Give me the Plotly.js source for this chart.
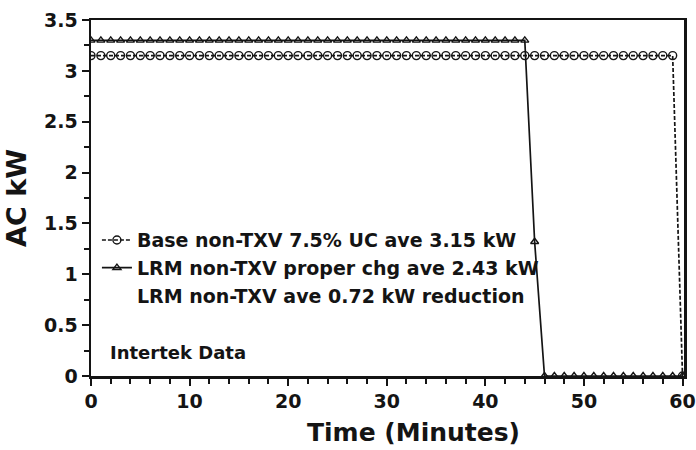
<!DOCTYPE html>
<html>
<head>
<meta charset="utf-8">
<script src="https://cdn.plot.ly/plotly-3.0.1.min.js"></script>
<style>
  html, body { margin: 0; padding: 0; background: #fff; }
  #chart { width: 696px; height: 450px; }
</style>
</head>
<body>
<div id="chart"></div>
<script>
// Time in minutes
const timeMin = [0,1,2,3,4,5,6,7,8,9,10,11,12,13,14,15,16,17,18,19,20,21,22,23,24,25,26,27,28,29,30,31,32,33,34,35,36,37,38,39,40,41,42,43,44,45,46,47,48,49,50,51,52,53,54,55,56,57,58,59,60];
// Base non-TXV 7.5% UC (kW)
const baseKW = [3.15,3.15,3.15,3.15,3.15,3.15,3.15,3.15,3.15,3.15,3.15,3.15,3.15,3.15,3.15,3.15,3.15,3.15,3.15,3.15,3.15,3.15,3.15,3.15,3.15,3.15,3.15,3.15,3.15,3.15,3.15,3.15,3.15,3.15,3.15,3.15,3.15,3.15,3.15,3.15,3.15,3.15,3.15,3.15,3.15,3.15,3.15,3.15,3.15,3.15,3.15,3.15,3.15,3.15,3.15,3.15,3.15,3.15,3.15,3.15,0];
// LRM non-TXV proper charge (kW)
const lrmKW = [3.3,3.3,3.3,3.3,3.3,3.3,3.3,3.3,3.3,3.3,3.3,3.3,3.3,3.3,3.3,3.3,3.3,3.3,3.3,3.3,3.3,3.3,3.3,3.3,3.3,3.3,3.3,3.3,3.3,3.3,3.3,3.3,3.3,3.3,3.3,3.3,3.3,3.3,3.3,3.3,3.3,3.3,3.3,3.3,3.3,1.32,0,0,0,0,0,0,0,0,0,0,0,0,0,0,0];

const seriesNames = [
  'Base non-TXV 7.5% UC ave 3.15 kW',
  'LRM non-TXV proper chg ave 2.43 kW',
  'LRM non-TXV ave 0.72 kW reduction'
];
const noteText = 'Intertek Data';
const xTitle = 'Time (Minutes)';
const yTitle = 'AC kW';

const FONT = 'DejaVu Sans, Arial, sans-serif';
const INK = '#141414';

const traces = [
  {
    x: timeMin, y: baseKW, name: seriesNames[0], type: 'scatter', mode: 'lines+markers',
    line: { color: INK, width: 1.7, dash: '4px,2px' },
    marker: { symbol: 'circle-open', size: 8, color: INK, line: { width: 1.4 } }
  },
  {
    x: timeMin, y: lrmKW, name: seriesNames[1], type: 'scatter', mode: 'lines+markers',
    line: { color: INK, width: 1.7 },
    marker: { symbol: 'triangle-up-open', size: 7, color: INK, line: { width: 1.4 } }
  },
  {
    x: [null], y: [null], name: seriesNames[2], type: 'scatter', mode: 'lines',
    line: { color: 'rgba(0,0,0,0)', width: 0 }, hoverinfo: 'skip'
  }
];

const layout = {
  width: 696, height: 450,
  margin: { l: 91, r: 12, t: 20, b: 74 },
  paper_bgcolor: '#fff', plot_bgcolor: '#fff',
  font: { family: FONT, color: INK, weight: 'bold' },
  showlegend: true,
  legend: {
    x: 0.01, xanchor: 'left', y: 0.435, yanchor: 'top',
    bgcolor: 'rgba(0,0,0,0)', borderwidth: 0,
    font: { family: FONT, size: 19, weight: 'bold', color: INK },
    tracegroupgap: 0
  },
  xaxis: {
    range: [0, 60.15], dtick: 10, tick0: 0,
    showline: true, linecolor: INK, linewidth: 2.5, mirror: true,
    showgrid: false, zeroline: false,
    ticks: 'outside', ticklen: 7, tickwidth: 2, tickcolor: INK,
    minor: { dtick: 2, ticks: 'outside', ticklen: 5, tickwidth: 2, tickcolor: INK },
    tickfont: { family: FONT, size: 19, weight: 'bold', color: INK }
  },
  yaxis: {
    range: [0, 3.5], dtick: 0.5, tick0: 0,
    showline: true, linecolor: INK, linewidth: 2.5, mirror: true,
    showgrid: false, zeroline: false,
    ticks: 'outside', ticklen: 7, tickwidth: 2, tickcolor: INK,
    minor: { dtick: 0.25, ticks: 'outside', ticklen: 5, tickwidth: 2, tickcolor: INK },
    tickfont: { family: FONT, size: 19, weight: 'bold', color: INK },
    title: { text: yTitle, font: { family: FONT, size: 27, weight: 'bold', color: INK }, standoff: 10 }
  },
  annotations: [
    {
      text: noteText, xref: 'paper', yref: 'paper', x: 0.028, y: 0.067,
      xanchor: 'left', yanchor: 'middle', showarrow: false,
      font: { family: FONT, size: 18, weight: 'bold', color: INK }
    },
    {
      text: xTitle, xref: 'paper', yref: 'paper', x: 0.544, y: -0.16,
      xanchor: 'center', yanchor: 'middle', showarrow: false,
      font: { family: FONT, size: 25, weight: 'bold', color: INK }
    }
  ]
};

Plotly.newPlot('chart', traces, layout, { displayModeBar: false, staticPlot: true });
</script>
</body>
</html>
